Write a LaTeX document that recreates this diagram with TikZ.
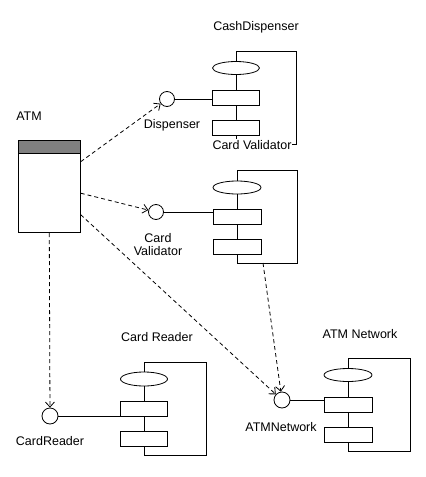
\documentclass[tikz,border=0pt]{standalone}
\usepackage{fontspec}
\setmainfont{Liberation Sans}
\usetikzlibrary{arrows.meta,shapes}
\definecolor{headgray}{RGB}{128,128,128}

\begin{document}
\begin{tikzpicture}[x=1pt,y=-1pt,line width=0.8pt,
    every node/.style={font=\fontsize{12.5}{13}\selectfont},
    iface/.style={draw,circle,minimum size=15pt,inner sep=0pt},
    part/.style={draw,fill=white,minimum width=47pt,minimum height=15pt,inner sep=0pt},
    port/.style={draw,fill=white,ellipse,minimum width=47pt,minimum height=13pt,inner sep=0pt},
    dep/.style={dash pattern=on 4pt off 3pt,-{Straight Barb[length=5pt,width=9pt]}}]
    \useasboundingbox (0,0) rectangle (426,477);

    % CashDispenser
    \draw (236,51) rectangle (296,144);
    \node (cashell) [port] at (236,68) {};
    \node (cash1) [part] at (236,97.5) {};
    \node (cash2) [part] at (236,127.5) {};
    \node (cashlbl) [fill=white,inner sep=1pt] at (252,145) {Card Validator};
    \node (cashname) at (256,27) {CashDispenser};
    \node (dispif) [iface] at (167,99) {};
    \node (displbl) at (172,125) {Dispenser};
    \draw (dispif) -- (dispif -| cash1.west);

    % Card Validator
    \draw (237,170) rectangle (297,263);
    \node (valell) [port,minimum width=48pt] at (237,187.5) {};
    \node (val1) [part,minimum width=48pt] at (237,216.5) {};
    \node (val2) [part,minimum width=48pt] at (237,247) {};
    \node (valif) [iface] at (156,212) {};
    \node (vallbl) [align=center] at (158,245) {Card\\Validator};
    \draw (valif) -- (valif -| val1.west);

    % Card Reader
    \draw (144,362) rectangle (206,455);
    \node (rdrell) [port,minimum height=14pt] at (144,379) {};
    \node (rdr1) [part] at (144,409) {};
    \node (rdr2) [part] at (144,439) {};
    \node (rdrname) at (157,337) {Card Reader};
    \node (rdrif) [iface,minimum size=16pt] at (50,416) {};
    \node (rdrlbl) at (50,441) {CardReader};
    \draw (rdrif) -- (rdrif -| rdr1.west);

    % ATM Network
    \draw (348,358) rectangle (410,451);
    \node (netell) [port,minimum width=48pt] at (348,375) {};
    \node (net1) [part,minimum width=48pt] at (348,405) {};
    \node (net2) [part,minimum width=48pt] at (348,434.5) {};
    \node (netname) at (360,334) {ATM Network};
    \node (netif) [iface,minimum size=16pt] at (282,400) {};
    \node (netlbl) at (281,427) {ATMNetwork};
    \draw (netif) -- (netif -| net1.west);

    % ATM
    \node (atmname) at (29,116) {ATM};
    \node (atm) [draw,minimum width=62pt,minimum height=92pt,inner sep=0pt] at (49.3,186.7) {};
    \draw[fill=headgray] (atm.north west) rectangle ([yshift=-13pt]atm.north east);

    % dependencies
    \draw[dep] ([yshift=25pt]atm.east) -- (dispif);
    \draw[dep] ([yshift=-6.5pt]atm.east) -- (valif);
    \draw[dep] ([yshift=-28pt]atm.east) -- (netif);
    \draw[dep] (atm.south) -- (rdrif);
    \coordinate (valbot) at (263,263);
    \draw[dep] (valbot) -- (netif);
\end{tikzpicture}
\end{document}
